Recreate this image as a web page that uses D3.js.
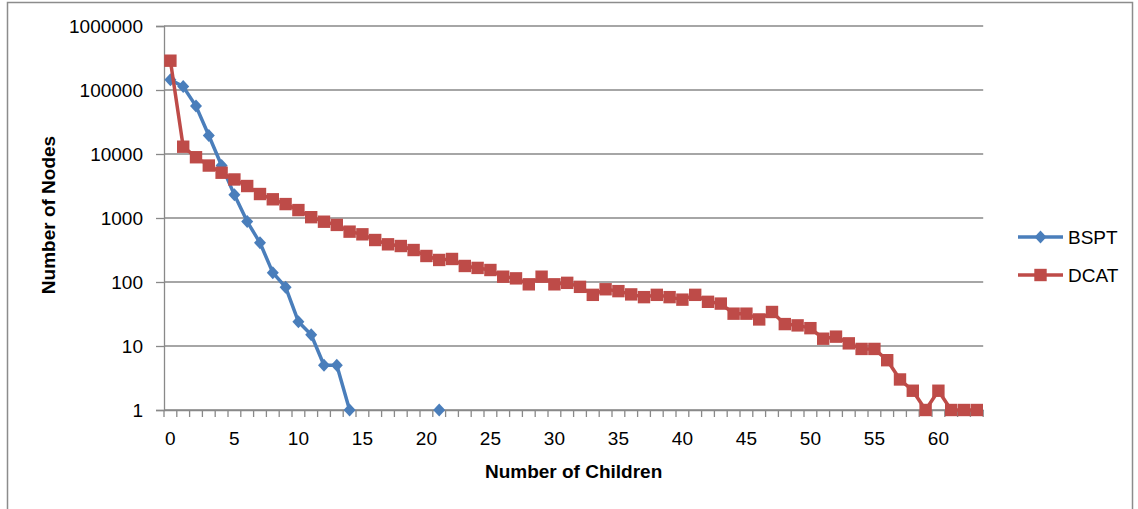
<!DOCTYPE html>
<html>
<head>
<meta charset="utf-8">
<script src="https://cdn.jsdelivr.net/npm/d3@7"></script>
<style>
  body { margin: 0; background: #fff; }
  svg text { font-family: "Liberation Sans", Arial, sans-serif; fill: #000; }
</style>
</head>
<body>
<div id="chart"></div>
<script>
////////////////////////////////////////
// number of nodes per child count, log scale, two series
////////////////////////////////////////

var categories = [0, 1, 2, 3, 4, 5, 6, 7, 8, 9, 10, 11, 12, 13, 14, 15,
    16, 17, 18, 19, 20, 21, 22, 23, 24, 25, 26, 27, 28, 29, 30, 31,
    32, 33, 34, 35, 36, 37, 38, 39, 40, 41, 42, 43, 44, 45, 46, 47,
    48, 49, 50, 51, 52, 53, 54, 55, 56, 57, 58, 59, 60, 61, 62, 63];

// blanks (null) are gaps in the line
var bsptValues = [145000, 113000, 56000, 19500, 6600, 2300, 880, 410, 140, 83,
    24, 15, 5, 5, 1, null, null, null, null, null, null, 1];

var dcatValues = [287000, 13000, 8900, 6600, 5100, 4000, 3160, 2370, 1960, 1650,
    1330, 1030, 875, 780, 612, 556, 453, 388, 365, 316,
    255, 221, 229, 178, 166, 154, 121, 114, 92, 121,
    92, 97, 84, 63, 77, 72, 64, 58, 63, 58,
    53, 63, 49, 46, 32, 32, 26, 34, 22, 21,
    19, 13, 14, 11, 9, 9, 6, 3, 2, 1,
    2, 1, 1, 1];

var yTicks = [1, 10, 100, 1000, 10000, 100000, 1000000];
var xLabelEvery = 5;

var seriesNames = ["BSPT", "DCAT"];
var seriesColors = ["#4A7EBB", "#BE4B48"];

////////////////////////////////////////

var width = 1138, height = 509;
var plotLeft = 164, plotRight = 983.2, plotTop = 26, plotBottom = 410;
var gridColor = "#898989";
var fontSize = 19;

var svg = d3.select("#chart").append("svg")
    .attr("width", width)
    .attr("height", height);

// outer chart border (bottom edge falls off the picture)
svg.append("rect")
    .attr("x", 7.5).attr("y", 2.5)
    .attr("width", 1125).attr("height", 520)
    .style("fill", "#fff")
    .style("stroke", "#8c8c8c")
    .style("stroke-width", 1.5);

var x = d3.scaleBand()
    .domain(categories)
    .range([plotLeft, plotRight])
    .paddingInner(0).paddingOuter(0);

var y = d3.scaleLog()
    .domain([1, 1000000])
    .range([plotBottom, plotTop]);

function cx(c) { return x(c) + x.bandwidth() / 2; }

// horizontal gridlines
svg.append("g")
    .selectAll("line")
    .data(yTicks)
    .enter().append("line")
    .attr("x1", plotLeft).attr("x2", plotRight)
    .attr("y1", function(d) { return y(d); })
    .attr("y2", function(d) { return y(d); })
    .style("stroke", gridColor)
    .style("stroke-width", 1.3);

// y axis
var yAxis = svg.append("g")
    .attr("transform", "translate(" + plotLeft + ",0)")
    .call(d3.axisLeft(y)
        .tickValues(yTicks)
        .tickFormat(d3.format("d"))
        .tickSize(8)
        .tickPadding(13));
yAxis.select(".domain").style("stroke", gridColor).style("stroke-width", 1.3);
yAxis.selectAll(".tick line").style("stroke", gridColor).style("stroke-width", 1.3);
yAxis.selectAll("text")
    .style("font-size", fontSize + "px")
    .style("fill", "#000");

// x axis: labels centered on categories, ticks on category boundaries
var xAxis = svg.append("g")
    .attr("transform", "translate(0," + plotBottom + ")")
    .call(d3.axisBottom(x)
        .tickSize(0)
        .tickPadding(22)
        .tickFormat(function(d) { return d % xLabelEvery === 0 ? d : ""; }));
xAxis.select(".domain").style("stroke", gridColor).style("stroke-width", 1.3);
xAxis.selectAll("text")
    .style("font-size", fontSize + "px")
    .style("fill", "#000");

var bounds = categories.map(function(c) { return x(c); }).concat([plotRight]);
xAxis.selectAll(".bound")
    .data(bounds)
    .enter().append("line")
    .attr("class", "bound")
    .attr("x1", function(d) { return d; })
    .attr("x2", function(d) { return d; })
    .attr("y1", 0).attr("y2", 7)
    .style("stroke", gridColor)
    .style("stroke-width", 1.3);

// axis titles
svg.append("text")
    .attr("x", (plotLeft + plotRight) / 2)
    .attr("y", 478)
    .style("text-anchor", "middle")
    .style("font-size", fontSize + "px")
    .style("font-weight", "bold")
    .text("Number of Children");

svg.append("text")
    .attr("transform", "translate(55,215) rotate(-90)")
    .style("text-anchor", "middle")
    .style("font-size", fontSize + "px")
    .style("font-weight", "bold")
    .text("Number of Nodes");

////////////////////////////////////////
// series

var line = d3.line()
    .defined(function(d) { return d.v != null; })
    .x(function(d) { return cx(d.c); })
    .y(function(d) { return y(d.v); });

var diamond = "M0,-6.5L6,0L0,6.5L-6,0Z";
var square = "M-6.2,-6.2H6.2V6.2H-6.2Z";
var markers = [diamond, square];

function drawSeries(values, idx) {
    var pts = values.map(function(v, i) { return { c: categories[i], v: v }; });
    var g = svg.append("g");

    g.append("path")
        .datum(pts)
        .attr("d", line)
        .style("fill", "none")
        .style("stroke", seriesColors[idx])
        .style("stroke-width", 3.5)
        .style("stroke-linejoin", "round");

    g.selectAll(".mk")
        .data(pts.filter(function(d) { return d.v != null; }))
        .enter().append("path")
        .attr("class", "mk")
        .attr("d", markers[idx])
        .attr("transform", function(d) { return "translate(" + cx(d.c) + "," + y(d.v) + ")"; })
        .style("fill", seriesColors[idx]);
}

drawSeries(bsptValues, 0);
drawSeries(dcatValues, 1);

////////////////////////////////////////
// legend

var legend = svg.append("g");
seriesNames.forEach(function(name, i) {
    var ly = 237 + i * 38;
    legend.append("line")
        .attr("x1", 1018).attr("x2", 1063)
        .attr("y1", ly).attr("y2", ly)
        .style("stroke", seriesColors[i])
        .style("stroke-width", 3.5);
    legend.append("path")
        .attr("d", markers[i])
        .attr("transform", "translate(1040.5," + ly + ")")
        .style("fill", seriesColors[i]);
    legend.append("text")
        .attr("x", 1068)
        .attr("y", ly + 7)
        .style("font-size", fontSize + "px")
        .text(name);
});
</script>
</body>
</html>
